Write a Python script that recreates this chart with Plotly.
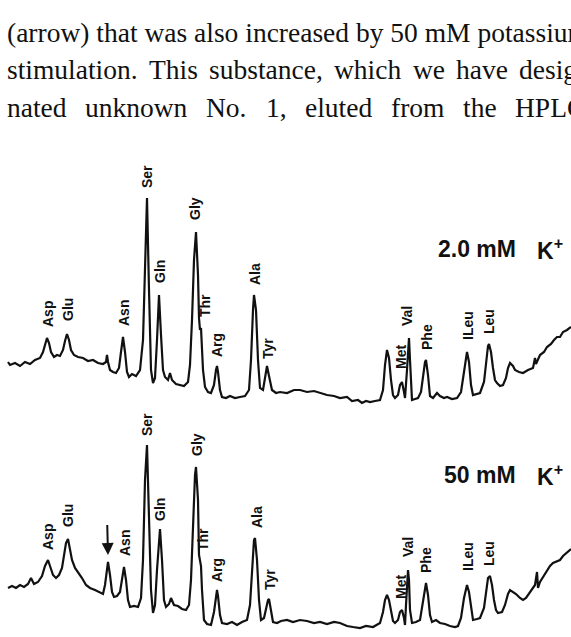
import plotly.graph_objects as go

# ---- chromatogram traces (retention position, detector signal) ----
top_x = [8,10,15,20,25,30,35,40,43,45,47,49,51,54,57,60,63,65,67,69,71,74,78,83,88,93,98,103,106,107,108,110,113,116,119,121,123,125,127,129,132,136,140,143,145,147,149,151,153,155,157,159,161,163,165,168,170,172,176,180,184,188,190,192,194,196,198,199,200,201,203,205,208,211,214,216,217,218,220,222,226,230,235,240,245,249,251,253,254,256,258,260,263,265,267,269,272,276,280,287,294,300,307,314,320,327,334,340,347,352,358,362,366,370,375,380,383,385,387,389,391,393,395,398,400,402,404,405,407,408,409,410,411,412,415,418,421,423,425,426,428,430,433,437,440,444,447,452,457,461,464,466,467,469,471,473,477,480,484,486,488,489,491,493,495,497,500,503,506,508,510,513,515,519,523,528,533,535,536,540,544,547,551,554,557,560,563,567,571]
top_h = [275,272,274,271,275,273,277,279,285,293,299,294,285,280,282,281,287,296,303,297,287,282,280,279,276,277,274,273,275,282,275,267,265,264,269,285,300,285,265,260,263,261,267,297,377,439,347,267,254,259,297,342,302,267,260,257,264,257,253,252,251,255,272,317,377,405,362,319,307,309,267,250,245,244,252,267,271,265,247,240,239,241,239,240,241,247,277,327,342,327,277,249,247,259,271,261,247,244,245,244,247,247,245,246,244,242,241,239,240,236,237,234,236,235,236,237,247,272,287,279,257,242,239,242,252,255,245,239,267,292,299,277,245,237,238,239,245,262,275,277,262,241,239,244,241,239,240,238,239,245,267,283,285,275,252,242,243,244,255,277,291,293,285,269,257,254,251,252,259,269,274,271,267,265,264,267,269,279,273,282,285,290,293,297,300,300,305,307,310]

bot_x = [8,12,16,20,24,28,31,34,38,42,45,48,50,53,56,59,62,64,66,68,70,72,75,78,82,86,90,95,100,103,105,107,108,110,112,114,117,120,122,124,126,128,130,134,138,141,143,145,147,149,151,153,155,157,159,160,162,164,166,169,171,174,178,182,186,189,191,193,195,196,198,199,200,201,202,204,207,211,214,216,217,218,220,222,227,232,237,242,247,250,252,254,255,257,259,261,264,266,268,269,271,273,277,281,287,293,300,307,314,320,327,334,340,347,353,360,366,373,380,383,385,387,389,391,393,395,398,400,402,404,405,406,407,408,409,410,412,416,420,423,425,426,428,430,432,436,440,445,450,455,458,461,464,466,467,469,471,473,477,480,484,486,488,490,492,494,496,498,502,505,508,510,513,516,520,523,526,530,533,535,537,538,540,544,547,550,553,557,560,563,567,571]
bot_h = [49,51,49,52,50,53,59,53,55,61,71,77,71,62,59,62,69,82,94,98,89,77,69,65,59,52,49,47,44,43,52,69,75,62,45,40,41,45,57,70,57,37,30,31,30,39,77,157,192,117,47,24,32,67,102,108,77,37,30,33,39,32,31,28,27,32,57,117,162,170,137,82,77,71,47,17,13,12,25,43,47,41,22,14,13,15,12,15,17,32,67,97,99,77,37,17,19,29,37,38,27,15,14,16,17,15,17,16,14,15,13,15,14,11,10,9,11,10,14,25,37,42,37,25,16,14,17,25,27,19,12,32,57,67,57,27,14,15,17,37,51,54,42,22,15,17,14,13,11,10,11,19,39,50,52,45,29,17,18,19,29,47,59,61,52,37,27,24,25,32,43,47,45,43,39,37,39,45,50,52,65,49,55,62,67,71,74,76,77,81,85,88]

# ---- peak labels ----
top_labels = ["Asp","Glu","Asn","Ser","Gln","Gly","Thr","Arg","Ala","Tyr","Met","Val","Phe","ILeu","Leu"]
top_lab_x  = [48,68,124,147,160,195,205,217,255,268,401,407,427,468,489]
top_lab_h  = [323,327,324,460,365,428,331,292,363,288,280,321,300,311,315]

bot_labels = ["Asp","Glu","Asn","Ser","Gln","Gly","Thr","Arg","Ala","Tyr","Met","Val","Phe","ILeu","Leu"]
bot_lab_x  = [48,68,125,147,160,197,203,217,257,270,401,408,426,468,489]
bot_lab_h  = [100,121,94,212,127,192,97,67,120,57,50,90,77,80,83]

conditions = ["2.0 mM", "50 mM"]
cond_h = [388, 162]

# ---- body text above the figure ----
line1 = "(arrow) that was also increased by 50 mM potassium"
line2_words = ["stimulation.","This","substance,","which","we","have","desig-"]
line2_x = [7,149,209,334,413,456,519]
line3_words = ["nated","unknown","No.","1,","eluted","from","the","HPLC"]
line3_x = [7,85,206,266,305,391,463,515]
text_h = [605, 567.5, 530]

fig = go.Figure()
fig.add_trace(go.Scatter(x=top_x, y=top_h, mode="lines",
                         line=dict(color="#111111", width=2.2), hoverinfo="skip"))
fig.add_trace(go.Scatter(x=bot_x, y=bot_h, mode="lines",
                         line=dict(color="#111111", width=2.2), hoverinfo="skip"))

ann = []
lab_font = dict(family="Liberation Sans", size=14, color="#111111")
for t, x, h in zip(top_labels + bot_labels, top_lab_x + bot_lab_x, top_lab_h + bot_lab_h):
    ann.append(dict(x=x, y=h, text="<b>%s</b>" % t, textangle=-90, showarrow=False,
                    xanchor="center", yanchor="middle", font=lab_font))

cond_font = dict(family="Liberation Sans", size=23, color="#111111")
for c, h in zip(conditions, cond_h):
    ann.append(dict(x=518, y=h, text="<b>%s</b>" % c, showarrow=False,
                    xanchor="right", yanchor="middle", font=cond_font))
    ann.append(dict(x=535, y=h, text="<b>K<sup>+</sup></b>", showarrow=False,
                    xanchor="left", yanchor="middle", font=cond_font))

# arrow marking unknown No. 1
ann.append(dict(x=108, y=82, ax=107, ay=122, xref="x", yref="y", axref="x", ayref="y",
                showarrow=True, arrowhead=2, arrowsize=1.2, arrowwidth=2, arrowcolor="#111111", text=" "))

body_font = dict(family="Liberation Serif", size=27.5, color="#111111")
ann.append(dict(x=5, y=text_h[0], text=line1, showarrow=False, xanchor="left",
                yanchor="middle", font=body_font))
for w, x in zip(line2_words, line2_x):
    ann.append(dict(x=x - 2, y=text_h[1], text=w, showarrow=False, xanchor="left",
                    yanchor="middle", font=body_font))
for w, x in zip(line3_words, line3_x):
    ann.append(dict(x=x - 2, y=text_h[2], text=w, showarrow=False, xanchor="left",
                    yanchor="middle", font=body_font))

fig.update_layout(
    width=571, height=637, margin=dict(l=0, r=0, t=0, b=0),
    paper_bgcolor="white", plot_bgcolor="white", showlegend=False,
    xaxis=dict(range=[0, 571], visible=False, fixedrange=True),
    yaxis=dict(range=[0, 637], visible=False, fixedrange=True),
    annotations=ann,
)
fig.write_html("out.html", config={"displayModeBar": False})
